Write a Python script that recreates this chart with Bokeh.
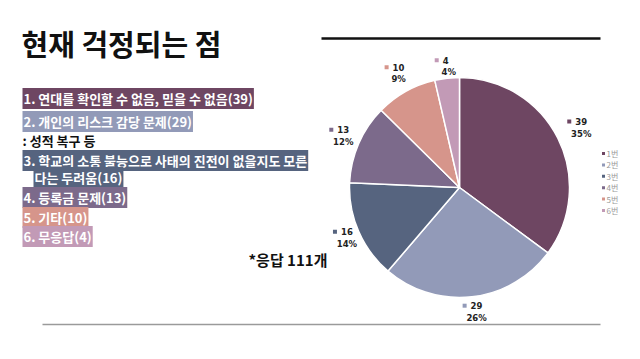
import numpy as np
from bokeh.plotting import figure
from bokeh.models import ColumnDataSource
from bokeh.core.properties import value
from bokeh.embed import file_html
from bokeh.resources import INLINE

# ---- data ----
title = "현재 걱정되는 점"
categories = ["1번", "2번", "3번", "4번", "5번", "6번"]
counts = [39, 29, 16, 13, 10, 4]
percents = ["35%", "26%", "14%", "12%", "9%", "4%"]
colors = ["#6e4662", "#929ab8", "#56647f", "#7c6a8b", "#d6958b", "#c29ab6"]
item_texts = [
    "1. 연대를 확인할 수 없음, 믿을 수 없음(39)",
    "2. 개인의 리스크 감당 문제(29)",
    "3. 학교의 소통 불능으로 사태의 진전이 없을지도 모른",
    "다는 두려움(16)",
    "4. 등록금 문제(13)",
    "5. 기타(10)",
    "6. 무응답(4)",
]
item_colors = [colors[0], colors[1], colors[2], colors[2], colors[3], colors[4], colors[5]]
sub_note = ": 성적 복구 등"
total_note = "*응답 111개"

W, H = 624, 343
def X(xi): return xi
def Y(yi): return H - yi

FONT = value("Noto Sans CJK KR")

p = figure(width=W, height=H, x_range=(0, W), y_range=(0, H),
           output_backend="svg", toolbar_location=None, min_border=0)
p.axis.visible = False
p.grid.visible = False
p.outline_line_color = None
p.background_fill_color = "white"
p.border_fill_color = "white"

# title
p.text(x=[X(21)], y=[Y(42)], text=[title], text_font=FONT, text_font_size="29px",
       text_font_style="bold", text_color="#111111", text_baseline="middle", text_align="left")

# horizontal rules
p.line(x=[X(321), X(600)], y=[Y(38), Y(38)], line_color="#111111", line_width=2.5)
p.line(x=[X(42), X(600)], y=[Y(324), Y(324)], line_color="#9a9a9a", line_width=1.5)

# left list with highlighted backgrounds
item_x = [22, 22, 22, 33, 22, 22, 22]
item_y = [98, 121, 160, 177, 197, 217, 236]
src = ColumnDataSource(dict(x=[X(v) for v in item_x], y=[Y(v) for v in item_y],
                            text=item_texts, bg=item_colors))
p.text(x="x", y="y", text="text", source=src, text_font=FONT, text_font_size="13px",
       text_font_style="bold", text_color="white", text_baseline="middle", text_align="left",
       background_fill_color="bg", padding=1)
p.text(x=[X(22)], y=[Y(140)], text=[sub_note], text_font=FONT, text_font_size="13px",
       text_font_style="bold", text_color="#111111", text_baseline="middle", text_align="left")
p.text(x=[X(248)], y=[Y(259)], text=[total_note], text_font=FONT, text_font_size="15px",
       text_font_style="bold", text_color="#111111", text_baseline="middle", text_align="left")

# pie
cx, cy, r = X(459), Y(187), 110
vals = np.array(counts, dtype=float)
frac = vals / vals.sum()
cum = np.concatenate([[0], np.cumsum(frac)])
start = np.pi / 2 - cum[1:] * 2 * np.pi
end = np.pi / 2 - cum[:-1] * 2 * np.pi
pie = ColumnDataSource(dict(start=start, end=end, color=colors))
p.wedge(x=cx, y=cy, radius=r, start_angle="start", end_angle="end", fill_color="color",
        line_color="white", line_width=1.5, source=pie)

# data labels
mid = (start + end) / 2
lr = np.array([133, 125, 126, 130, 131, 122])
lx = cx + lr * np.cos(mid)
ly = cy + lr * np.sin(mid)
lab = ColumnDataSource(dict(x=lx, y=ly, sx=lx - 9, sy=ly + 6,
                            num=[str(c) for c in counts], pct=percents, color=colors))
p.scatter(x="sx", y="sy", source=lab, marker="square", size=4, fill_color="color",
          line_color=None)
p.text(x="x", y="y", text="num", source=lab, text_font=value("DejaVu Sans"), text_font_size="8.5px",
       text_font_style="bold", text_color="#222222", text_baseline="middle", text_align="left",
       x_offset=-3, y_offset=-6)
p.text(x="x", y="y", text="pct", source=lab, text_font=value("DejaVu Sans"), text_font_size="8.5px",
       text_font_style="bold", text_color="#222222", text_baseline="middle", text_align="center",
       x_offset=3, y_offset=6)

# legend on right
leg_y = [Y(153 + i * 11.4) for i in range(len(categories))]
leg = ColumnDataSource(dict(x=[X(603)] * len(categories), y=leg_y, t=categories, color=colors))
p.scatter(x="x", y="y", source=leg, marker="square", size=3, fill_color="color", line_color=None)
p.text(x="x", y="y", text="t", source=leg, text_font=FONT, text_font_size="8px",
       text_color="#999999", text_baseline="middle", text_align="left", x_offset=3)

open("out.html", "w").write(file_html(p, INLINE))
